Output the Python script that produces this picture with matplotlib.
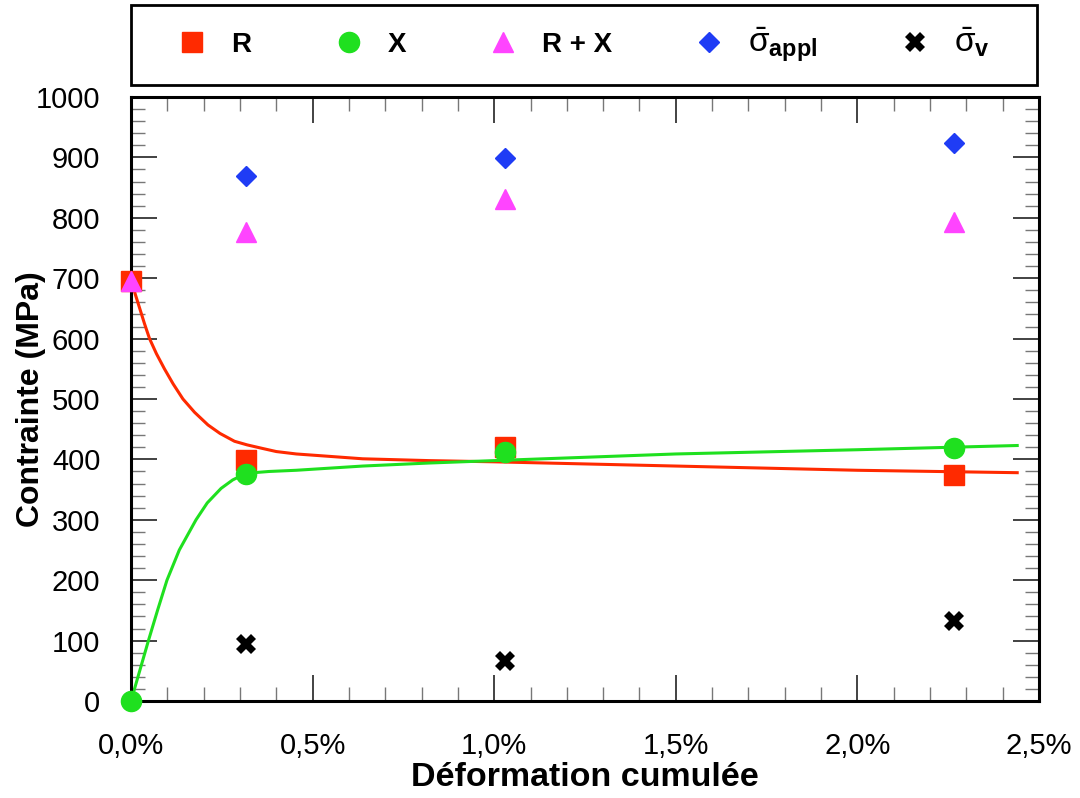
import matplotlib
matplotlib.use("Agg")
import matplotlib.pyplot as plt
from matplotlib.ticker import MultipleLocator, FixedLocator
from matplotlib.lines import Line2D
from matplotlib.patches import Rectangle

plt.rcParams['font.family'] = ['Liberation Sans', 'DejaVu Sans']
plt.rcParams['mathtext.fontset'] = 'custom'
plt.rcParams['mathtext.rm'] = 'Liberation Sans'
plt.rcParams['mathtext.bf'] = 'Liberation Sans:bold'
plt.rcParams['mathtext.it'] = 'Liberation Sans:italic'

# ---- data (deformation in %, stress in MPa) ----
strain_R = [0.0, 0.316, 1.03, 2.265]
R_vals = [695, 399, 420, 374]

strain_X = [0.0, 0.316, 1.03, 2.265]
X_vals = [0, 376, 412, 419]

strain_RX = [0.0, 0.316, 1.03, 2.265]
RX_vals = [695, 776, 831, 793]

strain_appl = [0.316, 1.03, 2.265]
appl_vals = [869, 899, 924]

strain_v = [0.316, 1.03, 2.265]
v_vals = [94, 66, 132]

# fitted curves
curve_R_x = [0.0, 0.012, 0.024, 0.037, 0.051, 0.07, 0.092, 0.116, 0.143, 0.175, 0.212,
             0.245, 0.285, 0.32, 0.363, 0.40, 0.455, 0.547, 0.638, 0.82, 1.0, 1.5, 2.0, 2.44]
curve_R_y = [697, 673, 650, 625, 600, 575, 550, 525, 500, 478, 457,
             443, 430, 424, 418, 413, 409, 405, 401, 398, 396, 389, 382, 378]
curve_X_x = [0.0, 0.024, 0.048, 0.073, 0.099, 0.133, 0.179, 0.21, 0.248, 0.28, 0.317,
             0.38, 0.455, 0.638, 0.82, 1.0, 1.5, 2.0, 2.44]
curve_X_y = [0, 50, 100, 150, 200, 250, 300, 328, 352, 366, 377,
             380, 382, 389, 394, 398, 409, 416, 423]

x_ticks = [0.0, 0.5, 1.0, 1.5, 2.0, 2.5]
x_tick_labels = ['0,0%', '0,5%', '1,0%', '1,5%', '2,0%', '2,5%']
y_ticks = [0, 100, 200, 300, 400, 500, 600, 700, 800, 900, 1000]

series_labels = ['R', 'X', 'R + X', r'$\bar{\mathrm{σ}}_{\mathbf{appl}}$', r'$\bar{\mathrm{σ}}_{\mathbf{v}}$']

RED = '#ff2a00'
GREEN = '#1fe01f'
MAG = '#ff44ff'
BLUE = '#1f3cf5'

fig = plt.figure(figsize=(10.8, 7.98), dpi=100)
ax = fig.add_axes([131/1080, 1-701/798, (1039-131)/1080, (701-97)/798])

ax.plot(curve_R_x, curve_R_y, color=RED, lw=2.2, zorder=2)
ax.plot(curve_X_x, curve_X_y, color=GREEN, lw=2.2, zorder=2)

ax.plot(strain_R, R_vals, 's', color=RED, ms=15, ls='none', zorder=3, clip_on=False)
ax.plot(strain_X, X_vals, 'o', color=GREEN, ms=14.5, ls='none', zorder=4, clip_on=False)
ax.plot(strain_RX, RX_vals, '^', color=MAG, ms=14, ls='none', zorder=5, clip_on=False)
ax.plot(strain_appl, appl_vals, 'D', color=BLUE, ms=10, ls='none', zorder=5)
ax.plot(strain_v, v_vals, 'X', color='black', ms=15, mew=0, ls='none', zorder=5)

ax.set_xlim(0, 2.5)
ax.set_ylim(0, 1000)
ax.xaxis.set_major_locator(FixedLocator(x_ticks))
ax.set_xticklabels(x_tick_labels)
ax.yaxis.set_major_locator(FixedLocator(y_ticks))
ax.xaxis.set_minor_locator(MultipleLocator(0.1))
ax.yaxis.set_minor_locator(MultipleLocator(20))
ax.tick_params(which='both', direction='in', top=True, right=True, labelsize=21, pad=22)
ax.tick_params(which='major', length=19, width=1.2, color='#222222')
ax.tick_params(which='minor', length=10, width=1.0, color='#777777')
for s in ax.spines.values():
    s.set_linewidth(2.2)

ax.set_xlabel('Déformation cumulée', fontsize=24.5, fontweight='bold', labelpad=2)
ax.set_ylabel('Contrainte (MPa)', fontsize=23, fontweight='bold')
ax.yaxis.set_label_coords(-0.094, 0.5)

# legend box above the plot
fig.add_artist(Rectangle((131/1080, 1-85/798), (1037-131)/1080, 80/798,
                         transform=fig.transFigure, fill=False, edgecolor='black', lw=2.0))
handles = [
    Line2D([], [], marker='s', color=RED, ls='none', ms=15),
    Line2D([], [], marker='o', color=GREEN, ls='none', ms=14.5),
    Line2D([], [], marker='^', color=MAG, ls='none', ms=14),
    Line2D([], [], marker='D', color=BLUE, ls='none', ms=10),
    Line2D([], [], marker='X', color='black', mew=0, ls='none', ms=15),
]
leg = fig.legend(handles, series_labels, ncol=5, loc='center',
                 bbox_to_anchor=((131+1037)/2/1080, 1-45/798),
                 frameon=False, prop={'weight': 'bold', 'size': 20},
                 handletextpad=0.9, columnspacing=3.0, handlelength=1.0,
                 borderaxespad=0, borderpad=0)
for t in leg.get_texts()[3:]:
    t.set_fontsize(24)

fig.savefig('out.png', dpi=100)
